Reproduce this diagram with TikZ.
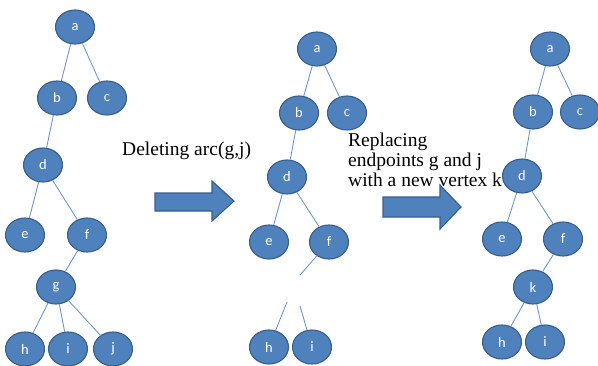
\documentclass[tikz,border=0pt]{standalone}
\usepackage{fontspec}
\usetikzlibrary{shapes.geometric}
\setmainfont{Liberation Serif}
\newfontfamily\nodefont{Carlito}
\definecolor{nodefill}{HTML}{4F81BD}
\definecolor{nodeborder}{HTML}{385D8A}
\definecolor{edgecol}{HTML}{6E96CA}
\begin{document}
\begin{tikzpicture}[x=1pt,y=-1pt,
  vtx/.style={ellipse,draw=nodeborder,fill=nodefill,line width=1.1pt,
    minimum width=39pt,minimum height=34pt,inner sep=0pt,
    text=white,font=\nodefont\fontsize{14.5}{14.5}\selectfont},
  edge/.style={draw=edgecol,line width=0.9pt},
  bigarrow/.style={draw=nodeborder,fill=nodefill,line width=1.1pt,line join=miter},
  caption/.style={font=\fontsize{19.5}{20}\selectfont,align=left,inner sep=0pt,anchor=base west}]
\useasboundingbox (0,0) rectangle (598,365);
% tree 1
\node[vtx] (a1) at (75,27) {a};
\node[vtx] (b1) at (57,98) {b};
\node[vtx] (c1) at (107,98) {c};
\node[vtx] (d1) at (43,165) {d};
\node[vtx] (e1) at (25,235) {e};
\node[vtx] (f1) at (87,235) {f};
\node[vtx] (g1) at (56,287) {g};
\node[vtx] (h1) at (25,349) {h};
\node[vtx] (i1) at (68,349) {i};
\node[vtx] (j1) at (113,349) {j};
\path[edge] (a1)--(b1) (a1)--(c1) (b1)--(d1) (d1)--(e1) (d1)--(f1)
  (f1)--(g1) (g1)--(h1) (g1)--(i1) (g1)--(j1);
% tree 2
\node[vtx] (a2) at (317,49) {a};
\node[vtx] (b2) at (299,113) {b};
\node[vtx] (c2) at (347,113) {c};
\node[vtx] (d2) at (287,177) {d};
\node[vtx] (e2) at (269,242) {e};
\node[vtx] (f2) at (329,242) {f};
\node[vtx] (h2) at (269,347) {h};
\node[vtx] (i2) at (312,347) {i};
\coordinate (gf) at (300,275);
\coordinate (gh) at (287,302);
\coordinate (gi) at (300,306);
\path[edge] (a2)--(b2) (a2)--(c2) (b2)--(d2) (d2)--(e2) (d2)--(f2)
  (f2)--(gf) (gh)--(h2) (gi)--(i2);
% tree 3
\node[vtx] (a3) at (550,49) {a};
\node[vtx] (b3) at (533,112) {b};
\node[vtx] (c3) at (580,112) {c};
\node[vtx] (d3) at (522,176) {d};
\node[vtx] (e3) at (502,239) {e};
\node[vtx] (f3) at (563,239) {f};
\node[vtx] (k3) at (533,287) {k};
\node[vtx] (h3) at (502,342) {h};
\node[vtx] (i3) at (545,342) {i};
\path[edge] (a3)--(b3) (a3)--(c3) (b3)--(d3) (d3)--(e3) (d3)--(f3)
  (f3)--(k3) (k3)--(h3) (k3)--(i3);
% arrows
\path[bigarrow] (155,193) -- (212,193) -- (212,181) -- (234,201) -- (212,221) -- (212,211) -- (155,211) -- cycle;
\path[bigarrow] (383,197) -- (440,197) -- (440,185) -- (461,207) -- (440,229) -- (440,217) -- (383,217) -- cycle;
% captions
\node[caption] (t1) at (122,155) {Deleting arc(g,j)};
\node[caption] (t2) at (348,186) {Replacing\\endpoints g and j\\with a new vertex k};
\end{tikzpicture}
\end{document}
